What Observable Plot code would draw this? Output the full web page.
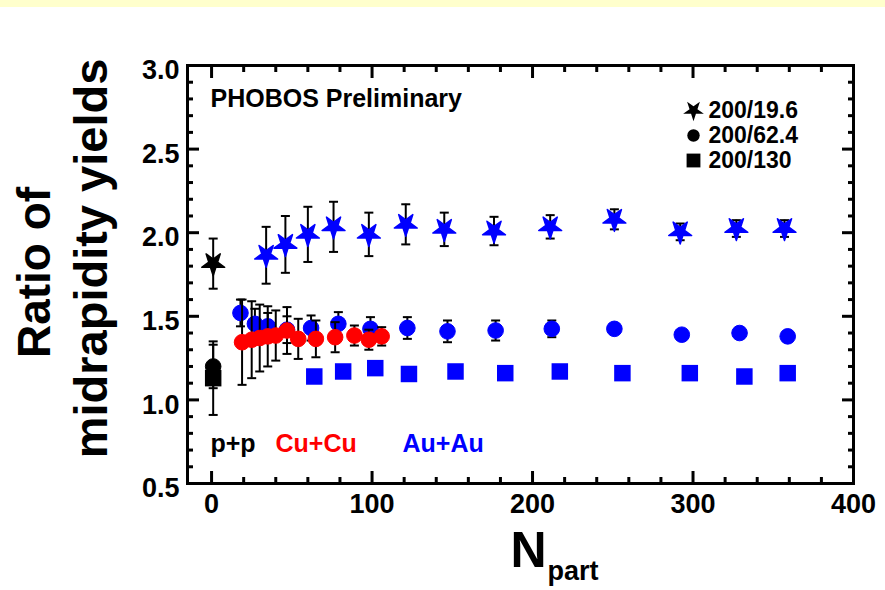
<!DOCTYPE html>
<html><head><meta charset="utf-8">
<script src="https://cdn.jsdelivr.net/npm/d3@7"></script>
<script src="https://cdn.jsdelivr.net/npm/@observablehq/plot@0.6"></script>
<style>
body{margin:0;background:#fff;}
#wrap{position:relative;width:885px;height:590px;overflow:hidden;}
#band{position:absolute;left:0;top:0;width:885px;height:7px;background:#ffffcc;}
svg{display:block;}
</style></head><body><div id="wrap"><div id="band"></div><div id="chart"></div></div>
<script>
// ---- data ----
const ppN = [1];
const ppStarV = [1.815], ppStarErr = [0.15];
const ppCircV = [1.20], ppCircErr = [0.13];
const ppSqV = [1.13], ppSqErr = [0.22];

const auStarN = [34, 46, 60, 76, 98, 121, 145, 176, 211, 251, 292, 327, 357];
const auStarV = [1.865, 1.93, 1.99, 2.035, 1.99, 2.05, 2.02, 2.01, 2.035, 2.08, 2.005, 2.025, 2.025];
const auStarErr = [0.17, 0.17, 0.165, 0.15, 0.13, 0.12, 0.10, 0.085, 0.07, 0.06, 0.05, 0.05, 0.05];

const auCircN = [18, 27, 35, 47, 62, 79, 99, 122, 147, 177, 212, 251, 293, 329, 359];
const auCircV = [1.52, 1.455, 1.44, 1.42, 1.43, 1.455, 1.425, 1.43, 1.41, 1.415, 1.425, 1.425, 1.39, 1.40, 1.38];
const auCircErr = [0.08, 0.09, 0.08, 0.08, 0.075, 0.07, 0.07, 0.065, 0.065, 0.06, 0.05, 0.02, 0.02, 0.02, 0.02];

const auSqN = [64, 82, 102, 123, 152, 183, 217, 256, 298, 332, 359];
const auSqV = [1.14, 1.17, 1.19, 1.155, 1.17, 1.16, 1.17, 1.16, 1.16, 1.14, 1.16];

const cuN = [19, 25, 30, 35, 40, 47, 54, 65, 77, 89, 98, 106];
const cuV = [1.345, 1.36, 1.37, 1.38, 1.385, 1.415, 1.365, 1.365, 1.375, 1.385, 1.36, 1.38];
const cuErr = [0.255, 0.23, 0.2, 0.18, 0.15, 0.14, 0.12, 0.11, 0.09, 0.06, 0.06, 0.055];

const xMajor = [0, 100, 200, 300, 400];
const xMinor = [20, 40, 60, 80, 120, 140, 160, 180, 220, 240, 260, 280, 320, 340, 360, 380];
const yMajor = [0.5, 1.0, 1.5, 2.0, 2.5, 3.0];
const yMinor = [0.6, 0.7, 0.8, 0.9, 1.1, 1.2, 1.3, 1.4, 1.6, 1.7, 1.8, 1.9, 2.1, 2.2, 2.3, 2.4, 2.6, 2.7, 2.8, 2.9];

const legendLabels = ["200/19.6", "200/62.4", "200/130"];
const systemLabels = ["p+p", "Cu+Cu", "Au+Au"];
const systemColors = ["black", "#ff0000", "#0000ff"];

// ---- build ----
const FONT = "'Liberation Sans', Arial, sans-serif";
const tab = (N, V, E) => N.map((n, i) => ({n, v: V[i], e: E ? E[i] : 0}));
const ppStar = tab(ppN, ppStarV, ppStarErr);
const ppCirc = tab(ppN, ppCircV, ppCircErr);
const ppSq = tab(ppN, ppSqV, ppSqErr);
const auStar = tab(auStarN, auStarV, auStarErr);
const auCirc = tab(auCircN, auCircV, auCircErr);
const auSq = tab(auSqN, auSqV);
const cu = tab(cuN, cuV, cuErr);

const cap = {draw(ctx) { ctx.moveTo(-4.5, 0); ctx.lineTo(4.5, 0); }};
const errs = (data) => [
  Plot.ruleX(data, {x: "n", y1: d => d.v - d.e, y2: d => d.v + d.e, stroke: "black", strokeWidth: 2}),
  Plot.dot(data, {x: "n", y: d => d.v + d.e, symbol: cap, r: 1, fill: "none", stroke: "black", strokeWidth: 2}),
  Plot.dot(data, {x: "n", y: d => d.v - d.e, symbol: cap, r: 1, fill: "none", stroke: "black", strokeWidth: 2})
];
const stars = (data, color) => Plot.dot(data, {x: "n", y: "v", symbol: "star", rotate: 180, r: 7.2, fill: color, stroke: color, strokeWidth: 1.5, strokeLinejoin: "round"});
const circs = (data, color) => Plot.dot(data, {x: "n", y: "v", symbol: "circle", r: 7.8, fill: color, stroke: color, strokeWidth: 1});
const squares = (data, color) => Plot.dot(data, {x: "n", y: "v", symbol: "square", r: 9.3, fill: color});

const legendSymbols = ["star", "circle", "square"];
const legendSizes = [6.5, 6.2, 7.8];
const legendDy = [45, 70, 95];

const chart = Plot.plot({
  width: 885, height: 590,
  marginLeft: 187, marginRight: 32, marginTop: 65, marginBottom: 107,
  style: {fontFamily: FONT, background: "white", color: "black"},
  x: {domain: [-15, 400]},
  y: {domain: [0.5, 3.0]},
  marks: [
    // ticks (inward)
    Plot.axisY(yMajor, {anchor: "left", tickSize: -12, strokeWidth: 3, fill: "none", label: null}),
    Plot.axisY(yMinor, {anchor: "left", tickSize: -6, strokeWidth: 3, fill: "none", label: null}),
    Plot.axisY(yMajor, {anchor: "right", tickSize: -12, strokeWidth: 3, fill: "none", label: null}),
    Plot.axisY(yMinor, {anchor: "right", tickSize: -6, strokeWidth: 3, fill: "none", label: null}),
    Plot.axisX(xMajor, {anchor: "bottom", tickSize: -12, strokeWidth: 3, fill: "none", label: null}),
    Plot.axisX(xMinor, {anchor: "bottom", tickSize: -6, strokeWidth: 3, fill: "none", label: null}),
    Plot.axisX(xMajor, {anchor: "top", tickSize: -12, strokeWidth: 3, fill: "none", label: null}),
    Plot.axisX(xMinor, {anchor: "top", tickSize: -6, strokeWidth: 3, fill: "none", label: null}),
    // tick labels
    Plot.axisY(yMajor, {anchor: "left", tickSize: 0, tickPadding: 8, dy: 5, fontSize: 27, fontWeight: "bold", tickFormat: d => d.toFixed(1), label: null}),
    Plot.axisX(xMajor, {anchor: "bottom", tickSize: 0, tickPadding: 10, fontSize: 27, fontWeight: "bold", tickFormat: d => String(d), label: null}),
    Plot.frame({stroke: "black", strokeWidth: 3}),
    // data
    squares(auSq, "#0000ff"),
    errs(auCirc),
    circs(auCirc, "#0000ff"),
    errs(cu),
    circs(cu, "#ff0000"),
    errs(auStar),
    stars(auStar, "#0000ff"),
    errs(ppSq),
    errs(ppCirc),
    squares(ppSq, "black"),
    circs(ppCirc, "black"),
    errs(ppStar),
    stars(ppStar, "black"),
    // annotations
    Plot.text(["PHOBOS Preliminary"], {frameAnchor: "top-left", dx: 23, dy: 33, textAnchor: "start", lineAnchor: "middle", fontSize: 25, fontWeight: "bold"}),
    legendLabels.map((t, i) => [
      Plot.dot([t], {frameAnchor: "top-right", dx: -160, dy: legendDy[i], symbol: legendSymbols[i], rotate: i === 0 ? 180 : 0, r: legendSizes[i], fill: "black"}),
      Plot.text([t], {frameAnchor: "top-right", dx: -145, dy: legendDy[i], textAnchor: "start", lineAnchor: "middle", fontSize: 23, fontWeight: "bold"})
    ]),
    systemLabels.map((t, i) => Plot.text([t], {frameAnchor: "bottom-left", dx: [23, 88, 215][i], dy: -40, textAnchor: "start", lineAnchor: "middle", fontSize: 25, fontWeight: "bold", fill: systemColors[i]})),
    // axis titles
    Plot.text(["Ratio of"], {frameAnchor: "left", dx: -152, dy: -2, rotate: -90, textAnchor: "middle", lineAnchor: "middle", fontSize: 46, fontWeight: "bold"}),
    Plot.text(["midrapidity yields"], {frameAnchor: "left", dx: -96, dy: -16, rotate: -90, textAnchor: "middle", lineAnchor: "middle", fontSize: 47, fontWeight: "bold"}),
    Plot.text(["N"], {frameAnchor: "bottom", dx: 26, dy: 67, textAnchor: "end", lineAnchor: "middle", fontSize: 50, fontWeight: "bold"}),
    Plot.text(["part"], {frameAnchor: "bottom", dx: 27, dy: 88, textAnchor: "start", lineAnchor: "middle", fontSize: 27, fontWeight: "bold"})
  ]
});
document.getElementById("chart").appendChild(chart);
</script></body></html>
